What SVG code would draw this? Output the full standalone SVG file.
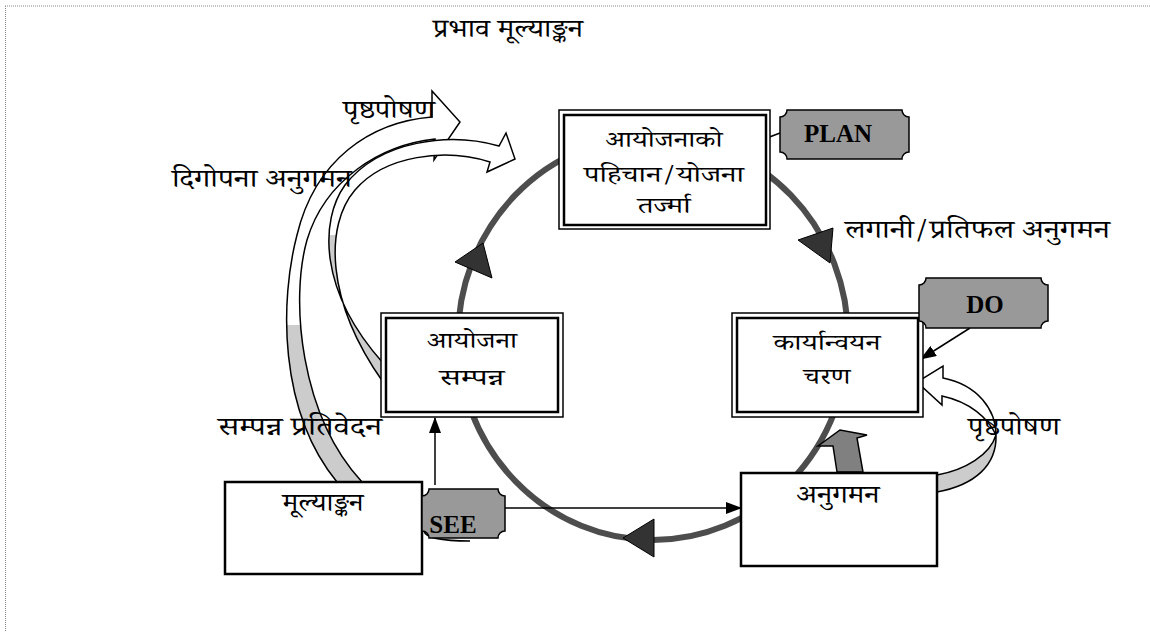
<svg xmlns="http://www.w3.org/2000/svg" width="1150" height="632" viewBox="0 0 1150 632">
<style>
.dv{font-family:"Noto Serif Devanagari","Noto Sans Devanagari","Lohit Devanagari","Mangal","Noto Sans","Liberation Serif",serif;font-size:26px;fill:#000}
.nd{font-size:22px}
.mid{text-anchor:middle}
.tagt{font-family:"Liberation Serif","Times New Roman",serif;font-weight:bold;font-size:25px;fill:#000;text-anchor:middle}
.tag{fill:#999;stroke:#000;stroke-width:1.5}
.ob{fill:#fff;stroke:#000;stroke-width:1.5}
.ib{fill:none;stroke:#000;stroke-width:2.5}
.box{fill:#fff;stroke:#000;stroke-width:2.5}
.tri{fill:#333;stroke:#000;stroke-width:1}
.ln{stroke:#000;stroke-width:1.5;fill:none}
.rib{stroke:#000;stroke-width:1.5}
</style>
<defs>
<marker id="ah" markerWidth="16" markerHeight="12" refX="15" refY="6" orient="auto" markerUnits="userSpaceOnUse"><path d="M0,0 L16,6 L0,12 Z" fill="#000"/></marker>
<linearGradient id="g1" gradientUnits="userSpaceOnUse" x1="0" y1="100" x2="0" y2="482"><stop offset="0" stop-color="#fff"/><stop offset="0.59" stop-color="#fff"/><stop offset="0.59" stop-color="#ccc"/><stop offset="1" stop-color="#ccc"/></linearGradient>
<linearGradient id="g2" gradientUnits="userSpaceOnUse" x1="0" y1="130" x2="0" y2="382"><stop offset="0" stop-color="#fff"/><stop offset="0.417" stop-color="#fff"/><stop offset="0.417" stop-color="#ccc"/><stop offset="1" stop-color="#ccc"/></linearGradient>
</defs>
<rect width="1150" height="632" fill="#fff"/>
<g id="frame" stroke="#888" stroke-width="1" stroke-dasharray="1 1">
<line x1="5" y1="6" x2="1150" y2="6"/>
<line x1="5.5" y1="6" x2="5.5" y2="632"/>
</g>
<g id="cycle">
<ellipse cx="653" cy="338" rx="195" ry="202" fill="none" stroke="#4d4d4d" stroke-width="6"/>
<polygon class="tri" points="455,262 483,243 492,278"/>
<polygon class="tri" points="798,240 833,228 830,263"/>
<polygon class="tri" points="623,538 654,519 654,557"/>
</g>
<g id="connectors">
<path class="rib" fill="url(#g1)" d="M 337 482 C 278 410, 280 300, 297 235 C 315 160, 370 122, 432 117 L 432 91 L 460 122 L 434 160 L 435 139 C 380 145, 325 180, 307 240 C 290 300, 300 415, 362 482 Z"/>
<path class="rib" fill="url(#g2)" d="M 383 363 C 318 290, 320 220, 345 185 C 380 140, 450 132, 499 146 L 506 133 L 515 159 L 487 172 L 490 162 C 445 148, 385 155, 355 190 C 325 225, 325 300, 383 382 Z"/>
<path class="ln" d="M 424 531 Q 426 541 470 541"/>
<path class="rib" fill="#fff" d="M 943 378 C 978 385, 996 410, 996 435 C 988 418, 970 402, 942 396 L 942 405 L 917 382 L 943 366 Z"/>
<path class="rib" fill="#ccc" d="M 996 435 C 997 465, 975 485, 937 492 L 937 475 C 965 470, 990 455, 996 435 Z"/>
<polygon class="rib" fill="#808080" points="837,472 833,446 818,446 840,430 867,435 857,438 863,472"/>
<line class="ln" x1="780" y1="133" x2="730" y2="152" marker-end="url(#ah)"/>
<line class="ln" x1="970" y1="328" x2="921" y2="359" marker-end="url(#ah)"/>
<line class="ln" x1="435" y1="485" x2="435" y2="418" marker-end="url(#ah)"/>
<line class="ln" x1="505" y1="508" x2="741" y2="508" marker-end="url(#ah)"/>
</g>
<g id="node-plan-id">
<rect class="ob" x="559" y="110" width="211" height="119"/>
<rect class="ib" x="564" y="115" width="202" height="110"/>
<text class="dv nd mid" x="664" y="147" textLength="117" lengthAdjust="spacingAndGlyphs">आयोजनाको</text>
<text class="dv nd mid" x="664" y="182" textLength="160" lengthAdjust="spacingAndGlyphs">पहिचान/योजना</text>
<text class="dv nd mid" x="664" y="213" textLength="53" lengthAdjust="spacingAndGlyphs">तर्ज्मा</text>
</g>
<g id="node-complete">
<rect class="ob" x="381" y="313" width="182" height="104"/>
<rect class="ib" x="386" y="318" width="172" height="94"/>
<text class="dv nd mid" x="472" y="348" textLength="90" lengthAdjust="spacingAndGlyphs">आयोजना</text>
<text class="dv nd mid" x="472" y="385" textLength="65" lengthAdjust="spacingAndGlyphs">सम्पन्न</text>
</g>
<g id="node-implement">
<rect class="ob" x="732" y="313" width="191" height="104"/>
<rect class="ib" x="737" y="318" width="181" height="94"/>
<text class="dv nd mid" x="827" y="350" textLength="107" lengthAdjust="spacingAndGlyphs">कार्यान्वयन</text>
<text class="dv nd mid" x="827" y="384" textLength="47" lengthAdjust="spacingAndGlyphs">चरण</text>
</g>
<g id="node-evaluation">
<rect class="box" x="225" y="482" width="197" height="92"/>
<text class="dv mid" x="323" y="511" textLength="81" lengthAdjust="spacingAndGlyphs">मूल्याङ्कन</text>
</g>
<g id="node-monitoring">
<rect class="box" x="741" y="473" width="196" height="93"/>
<text class="dv mid" x="838" y="503" textLength="83" lengthAdjust="spacingAndGlyphs">अनुगमन</text>
</g>
<g id="tag-plan">
<path class="tag" d="M787 110 L902 110 A7 7 0 0 0 909 117 L909 152 A7 7 0 0 0 902 159 L787 159 A7 7 0 0 0 780 152 L780 117 A7 7 0 0 0 787 110 Z"/>
<text class="tagt" x="838" y="142">PLAN</text>
</g>
<g id="tag-do">
<path class="tag" d="M926 278 L1041 278 A7 7 0 0 0 1048 285 L1048 321 A7 7 0 0 0 1041 328 L926 328 A7 7 0 0 0 919 321 L919 285 A7 7 0 0 0 926 278 Z"/>
<text class="tagt" x="985" y="313">DO</text>
</g>
<g id="tag-see">
<path class="tag" d="M429 489 L498 489 A7 7 0 0 0 505 496 L505 531 A7 7 0 0 0 498 538 L429 538 A7 7 0 0 0 422 531 L422 496 A7 7 0 0 0 429 489 Z"/>
<text class="tagt" x="453" y="533">SEE</text>
</g>
<g id="labels">
<text class="dv" x="433" y="37" textLength="150" lengthAdjust="spacingAndGlyphs">प्रभाव मूल्याङ्कन</text>
<text class="dv" x="343" y="118" textLength="92" lengthAdjust="spacingAndGlyphs">पृष्ठपोषण</text>
<text class="dv" x="172" y="187" textLength="180" lengthAdjust="spacingAndGlyphs">दिगोपना अनुगमन</text>
<text class="dv" x="845" y="238" textLength="265" lengthAdjust="spacingAndGlyphs">लगानी/प्रतिफल अनुगमन</text>
<text class="dv" x="218" y="435" textLength="164" lengthAdjust="spacingAndGlyphs">सम्पन्न प्रतिवेदन</text>
<text class="dv" x="968" y="435" textLength="92" lengthAdjust="spacingAndGlyphs">पृष्ठपोषण</text>
</g>
</svg>
